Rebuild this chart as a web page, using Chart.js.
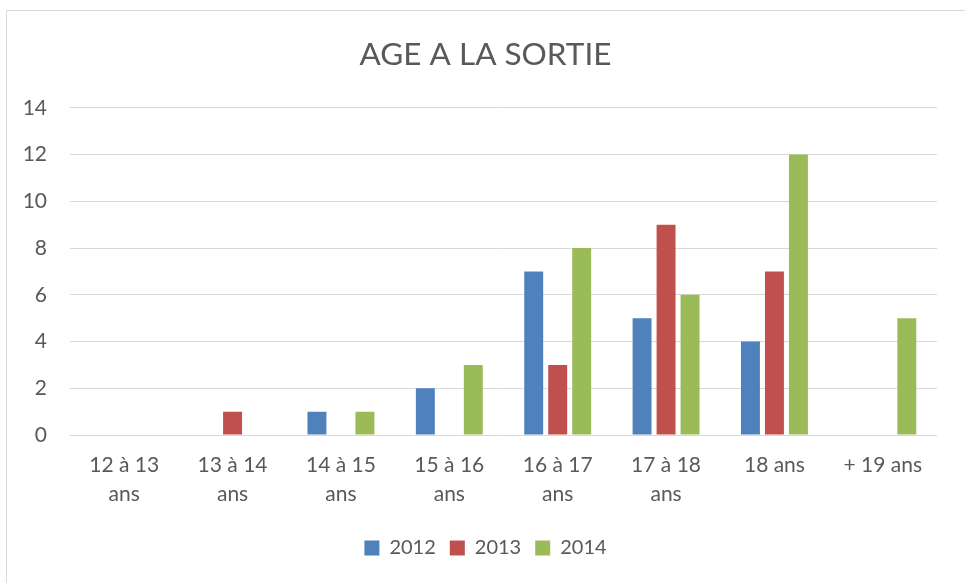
<!DOCTYPE html>
<html>
<head>
<meta charset="utf-8">
<script src="https://cdn.jsdelivr.net/npm/chart.js@4/dist/chart.umd.min.js"></script>
<style>
  html, body { margin: 0; padding: 0; background: #fff; }
  #wrap { position: relative; width: 965px; height: 583px; overflow: hidden; }
  #frame { position: absolute; left: 6px; top: 10px; width: 980px; height: 590px; border: 1px solid #d9d9d9; box-sizing: border-box; }
  canvas { position: absolute; left: 0; top: 0; }
</style>
</head>
<body>
<div id="wrap">
  <div id="frame"></div>
  <canvas id="c" width="965" height="583"></canvas>
</div>
<script>
const categories = [
  ['12 à 13', 'ans'], ['13 à 14', 'ans'], ['14 à 15', 'ans'], ['15 à 16', 'ans'],
  ['16 à 17', 'ans'], ['17 à 18', 'ans'], '18 ans', '+ 19 ans'
];
const series2012 = [0, 0, 1, 2, 7, 5, 4, 0];
const series2013 = [0, 1, 0, 0, 3, 9, 7, 0];
const series2014 = [0, 0, 1, 3, 8, 6, 12, 5];
const seriesNames = ['2012', '2013', '2014'];
const colors = ['#4F81BD', '#C0504D', '#9BBB59'];
const yTicks = [0, 2, 4, 6, 8, 10, 12, 14];

const FONT = 'Lato, "Open Sans", sans-serif';
const TXT = '#595959';

new Chart(document.getElementById('c'), {
  type: 'bar',
  data: {
    labels: categories,
    datasets: [series2012, series2013, series2014].map((d, i) => ({
      label: seriesNames[i],
      data: d,
      backgroundColor: colors[i],
      borderWidth: 0,
      categoryPercentage: 0.664,
      barPercentage: 0.79
    }))
  },
  options: {
    responsive: false,
    animation: false,
    devicePixelRatio: 1,
    layout: { padding: { left: 20, right: 14, top: 26, bottom: 15 } },
    plugins: {
      title: {
        display: true,
        text: 'AGE A LA SORTIE',
        color: TXT,
        font: { family: FONT, size: 31.5, weight: 'normal' },
        padding: { top: 10, bottom: 34 }
      },
      legend: {
        position: 'bottom',
        labels: {
          color: TXT,
          font: { family: FONT, size: 20 },
          boxWidth: 15,
          boxHeight: 15,
          padding: 14
        }
      },
      tooltip: { enabled: false }
    },
    scales: {
      x: {
        grid: { display: false },
        border: { display: false },
        ticks: {
          color: TXT,
          font: { family: FONT, size: 21, lineHeight: 1.38 },
          maxRotation: 0,
          padding: 8
        },
        afterFit: (axis) => { axis.height += 7; }
      },
      y: {
        min: 0,
        max: 14,
        afterBuildTicks: (axis) => { axis.ticks = yTicks.map(v => ({ value: v })); },
        grid: { color: '#d9d9d9', lineWidth: 1, drawTicks: false },
        border: { display: false },
        ticks: {
          color: TXT,
          font: { family: FONT, size: 21 },
          padding: 23
        },
        afterFit: (axis) => { axis.width = 50; }
      },
      y2: {
        position: 'right',
        display: true,
        grid: { display: false, drawTicks: false },
        border: { display: false },
        ticks: { display: false },
        afterFit: (axis) => { axis.width = 14; }
      }
    }
  }
});
</script>
</body>
</html>
